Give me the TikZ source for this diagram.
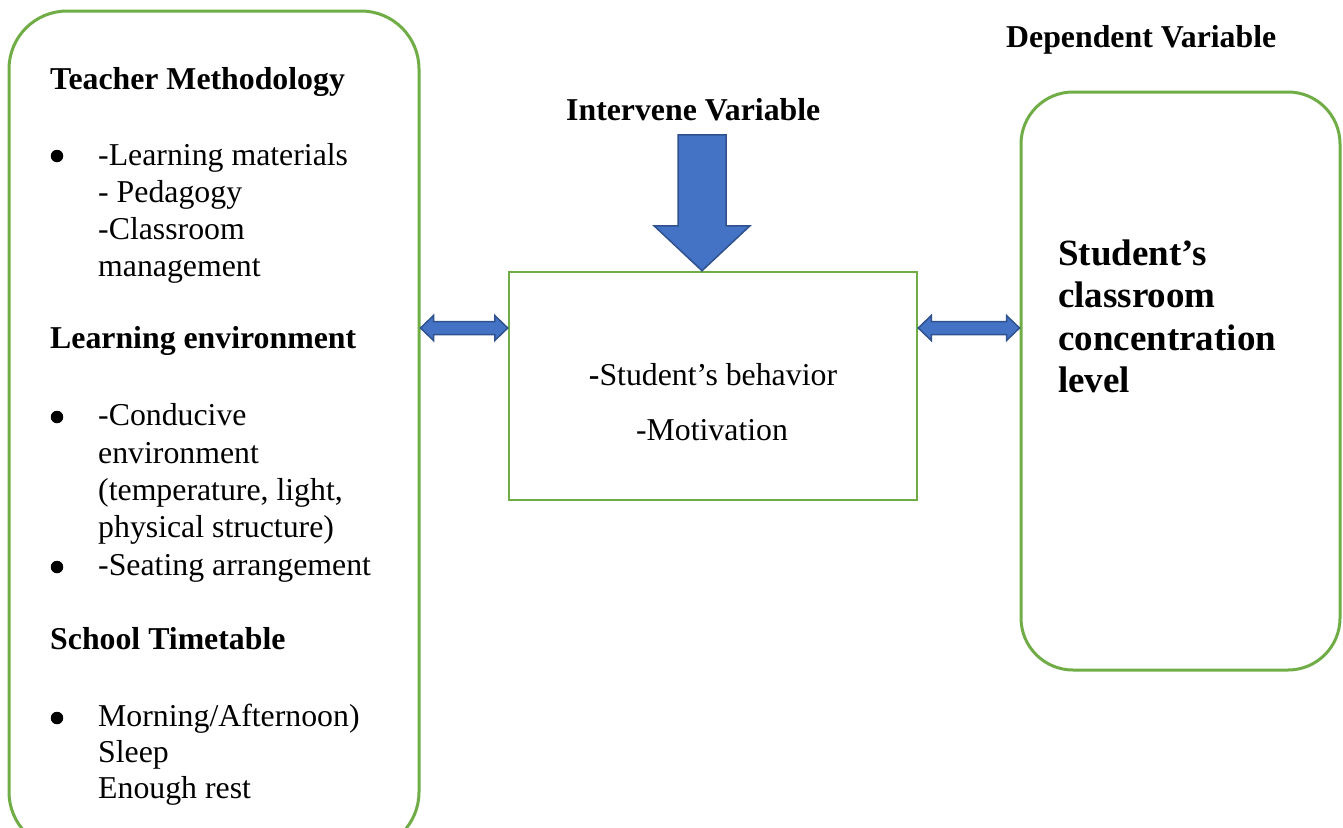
\documentclass[tikz,border=0pt]{standalone}
\usepackage{fontspec}
\setmainfont{Liberation Serif}
\usetikzlibrary{calc}
\definecolor{grn}{HTML}{70AD47}
\definecolor{blu}{HTML}{4472C4}
\definecolor{bluedge}{HTML}{2F528F}
\begin{document}
\begin{tikzpicture}[x=1pt,y=-1pt,
  box/.style={draw=grn, line width=3pt, rounded corners=58pt, inner sep=0pt},
  plainbox/.style={draw=grn, line width=2.5pt, inner sep=0pt},
  txt/.style={anchor=base west, inner sep=0pt, font=\fontsize{31.8}{37}\selectfont},
  hd/.style={anchor=base west, inner sep=0pt, font=\fontsize{31.8}{37}\selectfont\bfseries},
  big/.style={anchor=base west, inner sep=0pt, font=\fontsize{37}{42.3}\selectfont\bfseries},
  ctxt/.style={anchor=base, inner sep=0pt, font=\fontsize{31.8}{37}\selectfont},
  bul/.style={circle, fill=black, inner sep=0pt, minimum size=12.5pt},
  fat/.style={fill=blu, draw=bluedge, line width=1.5pt, line join=miter}]
\useasboundingbox (0,0) rectangle (1343,827);
\clip (0,0) rectangle (1343,827);

% boxes
\node[box, minimum width=410pt, minimum height=839pt] (L) at (214,430.5) {};
\node[plainbox, minimum width=408pt, minimum height=228pt] (M) at (713,386) {};
\node[box, rounded corners=52pt, minimum width=319pt, minimum height=578pt] (R) at (1180.5,381) {};

% left box texts
\node[hd] (h1) at (50,89) {Teacher Methodology};
\node[bul] (b1) at (57,156) {};
\node[txt] (l1) at (98,165) {-Learning materials};
\node[txt] (l2) at (98,202) {- Pedagogy};
\node[txt] (l3) at (98,239) {-Classroom};
\node[txt] (l4) at (98,276) {management};

\node[hd] (h2) at (50,348) {Learning environment};
\node[bul] (b2) at (57,417) {};
\node[txt] (l5) at (98,425) {-Conducive};
\node[txt] (l6) at (98,463) {environment};
\node[txt] (l7) at (98,500) {(temperature, light,};
\node[txt] (l8) at (98,537) {physical structure)};
\node[bul] (b3) at (57,567) {};
\node[txt] (l9) at (98,575) {-Seating arrangement};

\node[hd] (h3) at (50,649) {School Timetable};
\node[bul] (b4) at (57,718) {};
\node[txt] (l10) at (98,726) {Morning/Afternoon)};
\node[txt] (l11) at (98,762) {Sleep};
\node[txt] (l12) at (98,798) {Enough rest};

% middle
\node[hd] (iv) at (566,120) {Intervene Variable};
\node[ctxt] (m1) at (713,385) {{\bfseries -}Student’s behavior};
\node[ctxt] (m2) at (712,440) {-Motivation};

% right
\node[hd] (dv) at (1006,47) {Dependent Variable};
\node[big] (r1) at (1058,265) {Student’s};
\node[big] (r2) at (1058,307) {classroom};
\node[big] (r3) at (1058,350) {concentration};
\node[big] (r4) at (1058,392) {level};

% big down arrow
\coordinate (tip) at ($(M.north)+(-11,0)$);
\coordinate (atop) at ($(tip)+(0,-136)$);
\draw[fat] ($(atop)+(-24,0)$) -- ($(atop)+(24,0)$) -- ($(tip)+(24,-45)$) -- ($(tip)+(48,-45)$)
  -- (tip) -- ($(tip)+(-48,-45)$) -- ($(tip)+(-24,-45)$) -- cycle;

% double arrows
\coordinate (a1) at (L.east |- 0,328);
\coordinate (a2) at (M.west |- 0,328);
\coordinate (a3) at (M.east |- 0,328);
\coordinate (a4) at (R.west |- 0,328);
\foreach \p/\q in {a1/a2, a3/a4}{
  \draw[fat] (\p) -- ($(\p)+(13,-12.5)$) -- ($(\p)+(13,-6.5)$) -- ($(\q)+(-13,-6.5)$)
    -- ($(\q)+(-13,-12.5)$) -- (\q) -- ($(\q)+(-13,12.5)$) -- ($(\q)+(-13,6.5)$)
    -- ($(\p)+(13,6.5)$) -- ($(\p)+(13,12.5)$) -- cycle;
}
\end{tikzpicture}
\end{document}
